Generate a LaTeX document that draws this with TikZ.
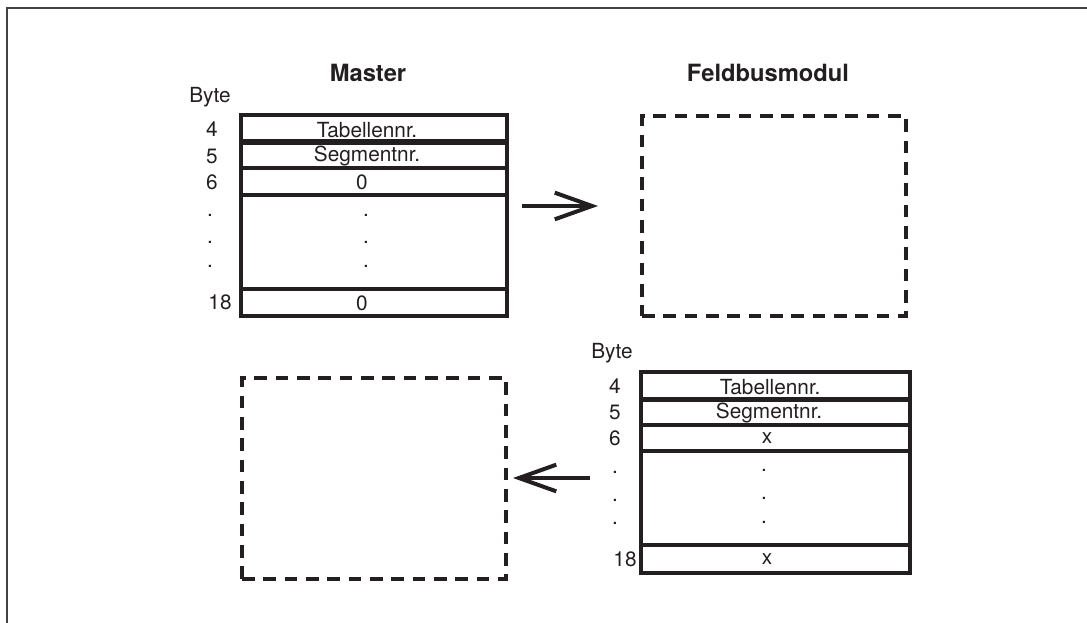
\documentclass[tikz,border=0pt]{standalone}
\usepackage{fontspec}
\setmainfont{TeX Gyre Heros}
\usetikzlibrary{arrows.meta}
\definecolor{ink}{HTML}{231F20}
\tikzset{
  px/.style={x=0.75pt,y=-0.75pt},
  frame/.style={line width=1.5pt,draw=ink!85},
  cell/.style={draw=ink,line width=2.4pt,rectangle,inner sep=0pt,minimum width=#1*0.75pt},
  lbl/.style={text=ink,font=\fontsize{15.6}{18}\selectfont,inner sep=0pt,anchor=center},
  ttl/.style={text=ink,font=\fontsize{17.8}{20}\selectfont\bfseries,inner sep=0pt},
  dbox/.style={draw=ink,line width=2.5pt,dash pattern=on 9.5pt off 6.5pt,rectangle,inner sep=0pt},
  bigarrow/.style={draw=ink,line width=3pt,-{Straight Barb[length=28pt,width=20pt,line width=3pt]}},
}
\begin{document}
\begin{tikzpicture}[px]
\useasboundingbox (0,0) rectangle (1087,623);
% frame
\draw[frame] (7,623) -- (7,8) -- (1087,8);

% ---------- Master ----------
\node[ttl] (tm) at (368,73) {Master};
\node[lbl] (bm) at (210,97) {Byte};
\node[cell=266,minimum height=26*0.75pt] (m4) at (374,128) {};
\node[cell=266,minimum height=25*0.75pt] (m5) at (374,155.5) {};
\node[cell=266,minimum height=27*0.75pt] (m6) at (374,181.5) {};
\node[cell=266,minimum height=94*0.75pt] (mb) at (374,242) {};
\node[cell=266,minimum height=27*0.75pt] (m18) at (374,302.5) {};
\node[lbl] at (367,130) {Tabellennr.};
\node[lbl] at (367,156) {Segmentnr.};
\node[lbl] at (362,182) {0};
\node[lbl] at (366,215) {.};
\node[lbl] at (366,242) {.};
\node[lbl] at (366,266) {.};
\node[lbl] at (362,303) {0};
\node[lbl] at (212,129) {4};
\node[lbl] at (212,156) {5};
\node[lbl] at (212,182) {6};
\node[lbl] at (210,215) {.};
\node[lbl] at (210,242) {.};
\node[lbl] at (210,266) {.};
\node[lbl] at (220,302) {18};

% ---------- Feldbusmodul ----------
\node[ttl] (tf) at (768,73) {Feldbusmodul};
\node[lbl] (bf) at (612,353) {Byte};
\node[cell=269,minimum height=27*0.75pt] (f4) at (775.5,385.5) {};
\node[cell=269,minimum height=25*0.75pt] (f5) at (775.5,412.5) {};
\node[cell=269,minimum height=26*0.75pt] (f6) at (775.5,438) {};
\node[cell=269,minimum height=94*0.75pt] (fb) at (775.5,498) {};
\node[cell=269,minimum height=28*0.75pt] (f18) at (775.5,559) {};
\node[lbl] at (770,387) {Tabellennr.};
\node[lbl] at (769,413) {Segmentnr.};
\node[lbl] at (767,438) {x};
\node[lbl] at (764,470) {.};
\node[lbl] at (764,498) {.};
\node[lbl] at (764,522) {.};
\node[lbl] at (767,559) {x};
\node[lbl] at (615,386) {4};
\node[lbl] at (615,412) {5};
\node[lbl] at (615,438) {6};
\node[lbl] at (615,472) {.};
\node[lbl] at (615,500) {.};
\node[lbl] at (615,523) {.};
\node[lbl] at (625,559) {18};

% ---------- dashed boxes ----------
\node[dbox,minimum width=264*0.75pt,minimum height=200*0.75pt] (df) at (774,216) {};
\node[dbox,minimum width=264*0.75pt,minimum height=201*0.75pt] (dm) at (374,478.5) {};

% ---------- arrows ----------
\coordinate (a1s) at (522,206);
\coordinate (a1e) at (598,206);
\coordinate (a2s) at (590,478);
\coordinate (a2e) at (513,478);
\draw[bigarrow] (a1s) -- (a1e);
\draw[bigarrow] (a2s) -- (a2e);
\end{tikzpicture}
\end{document}
